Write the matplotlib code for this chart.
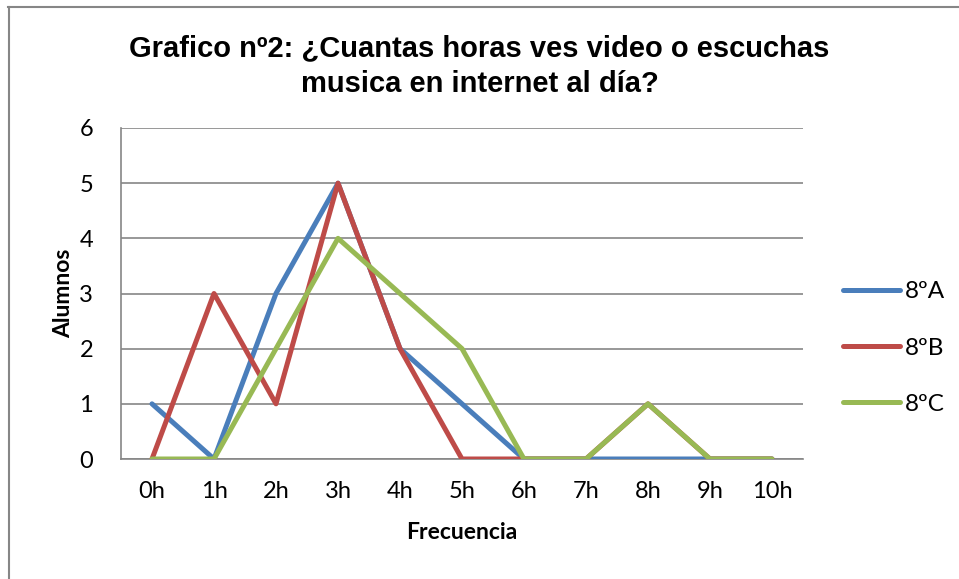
import matplotlib
matplotlib.use("Agg")
import matplotlib.pyplot as plt
from matplotlib.lines import Line2D

horas = ["0h", "1h", "2h", "3h", "4h", "5h", "6h", "7h", "8h", "9h", "10h"]
a8 = [1, 0, 3, 5, 2, 1, 0, 0, 0, 0, 0]
b8 = [0, 3, 1, 5, 2, 0, 0, 0, 1, 0, 0]
c8 = [0, 0, 2, 4, 3, 2, 0, 0, 1, 0, 0]
series = [("8ºA", a8, "#4A7EBB"), ("8ºB", b8, "#BE4B48"), ("8ºC", c8, "#98B954")]

W, H = 959, 579
fig = plt.figure(figsize=(W / 100, H / 100), dpi=100)
ax = fig.add_axes([121 / W, 1 - 459 / H, 682 / W, 331 / H])

x = range(len(horas))
for name, vals, col in series:
    ax.plot(x, vals, color=col, lw=3.6, label=name, solid_capstyle="round", zorder=3)

ax.set_xlim(-0.5, len(horas) - 0.5)
ax.set_ylim(0, 6)
ax.set_yticks(range(7))
ax.set_xticks(list(x))
ax.set_xticklabels(horas)
ax.yaxis.grid(True, color="#868686", lw=1.2)
ax.set_axisbelow(True)
for s in ["top", "right"]:
    ax.spines[s].set_visible(False)
for s in ["left", "bottom"]:
    ax.spines[s].set_color("#868686")
    ax.spines[s].set_linewidth(1.2)
ax.tick_params(axis="both", length=0, labelsize=17)
ax.tick_params(axis="x", pad=16)
ax.tick_params(axis="y", pad=20)
for t in ax.get_xticklabels() + ax.get_yticklabels():
    t.set_fontfamily("Lato")

ax.set_xlabel("Frecuencia", fontsize=16.5, fontweight="bold", fontfamily="Lato", labelpad=14)
ax.set_ylabel("Alumnos", fontsize=16.5, fontweight="bold", fontfamily="Lato", labelpad=4)

fig.text(0.5, 1 - 66 / H, "Grafico nº2: ¿Cuantas horas ves video o escuchas\nmusica en internet al día?",
         ha="center", va="center", fontsize=21, fontweight="bold",
         fontfamily="Liberation Sans", linespacing=1.35)

leg = ax.legend(loc="center left", bbox_to_anchor=(843 / W, 1 - 348 / H), bbox_transform=fig.transFigure,
                frameon=False, handlelength=2.35, labelspacing=1.45, handletextpad=0.2,
                borderaxespad=0, borderpad=0,
                prop={"family": "Lato", "size": 17.5})

# outer chart border (only top and left visible)
fig.add_artist(Line2D([8.5 / W, 8.5 / W], [0, 1 - 6.5 / H], transform=fig.transFigure, color="#868686", lw=1.5))
fig.add_artist(Line2D([8 / W, 1], [1 - 6.5 / H, 1 - 6.5 / H], transform=fig.transFigure, color="#868686", lw=1.5))

fig.savefig("out.png", dpi=100)
